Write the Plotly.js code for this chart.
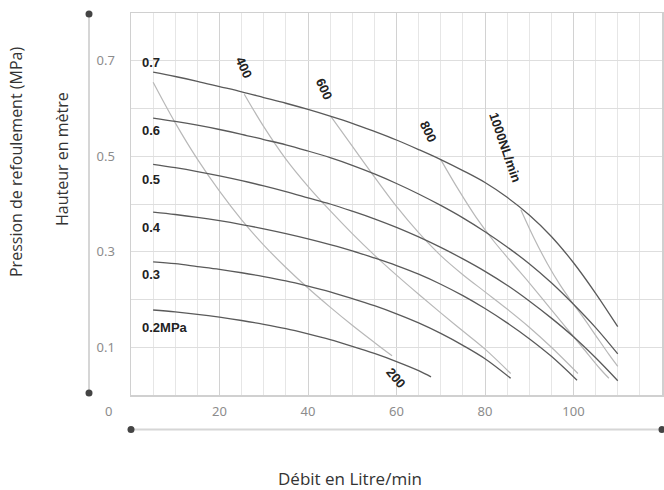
<!DOCTYPE html>
<html>
<head>
<meta charset="utf-8">
<script src="https://cdn.plot.ly/plotly-3.0.1.min.js"></script>
<style>
  html, body { margin: 0; padding: 0; background: #fff; }
  #chart { width: 664px; height: 490px; }
</style>
</head>
<body>
<div id="chart"></div>
<script>
// ---- Pressure curves (MPa): flow (L/min) vs head ----
const pressureNames = ['0.7', '0.6', '0.5', '0.4', '0.3', '0.2MPa'];
const q07 = [5, 10, 15, 20, 25, 30, 35, 40, 45, 50, 55, 60, 65, 70, 75, 80, 85, 90, 95, 100, 105, 110];
const h07 = [0.676, 0.667, 0.657, 0.646, 0.635, 0.623, 0.611, 0.598, 0.584, 0.569, 0.552, 0.534, 0.514, 0.493, 0.470, 0.445, 0.414, 0.377, 0.332, 0.277, 0.213, 0.143];
const q06 = [5, 10, 15, 20, 25, 30, 35, 40, 45, 50, 55, 60, 65, 70, 75, 80, 85, 90, 95, 100, 105, 110];
const h06 = [0.580, 0.573, 0.565, 0.556, 0.546, 0.535, 0.524, 0.511, 0.497, 0.481, 0.463, 0.443, 0.421, 0.397, 0.371, 0.342, 0.310, 0.275, 0.235, 0.190, 0.141, 0.086];
const q05 = [5, 10, 15, 20, 25, 30, 35, 40, 45, 50, 55, 60, 65, 70, 75, 80, 85, 90, 95, 100, 105, 110];
const h05 = [0.483, 0.476, 0.468, 0.459, 0.449, 0.438, 0.426, 0.413, 0.400, 0.385, 0.369, 0.351, 0.331, 0.309, 0.285, 0.259, 0.230, 0.197, 0.161, 0.122, 0.078, 0.030];
const q04 = [5, 10, 15, 20, 25, 30, 35, 40, 45, 50, 55, 60, 65, 70, 75, 80, 85, 90, 95, 100.8];
const h04 = [0.383, 0.378, 0.372, 0.365, 0.357, 0.348, 0.338, 0.327, 0.315, 0.302, 0.287, 0.271, 0.253, 0.232, 0.208, 0.181, 0.151, 0.118, 0.081, 0.031];
const q03 = [5, 10, 15, 20, 25, 30, 35, 40, 45, 50, 55, 60, 65, 70, 75, 80, 85.8];
const h03 = [0.279, 0.275, 0.269, 0.263, 0.256, 0.248, 0.239, 0.228, 0.216, 0.202, 0.187, 0.170, 0.151, 0.129, 0.104, 0.076, 0.035];
const q02 = [5, 10, 15, 20, 25, 30, 35, 40, 45, 50, 55, 60, 65, 67.8];
const h02 = [0.178, 0.174, 0.169, 0.163, 0.156, 0.148, 0.139, 0.128, 0.116, 0.102, 0.087, 0.070, 0.051, 0.038];

// ---- Air consumption curves (NL/min) ----
const airNames = ['200', '400', '600', '800', '1000NL/min'];
const qa200 = [5, 10, 15, 20, 25, 30, 35, 40, 45, 50, 55, 59];
const ha200 = [0.655, 0.570, 0.494, 0.427, 0.367, 0.314, 0.267, 0.224, 0.184, 0.146, 0.110, 0.082];
const qa400 = [25.6, 30, 35, 40, 45, 50, 55, 60, 65, 70, 75, 80, 85.8];
const ha400 = [0.630, 0.562, 0.494, 0.437, 0.386, 0.338, 0.293, 0.251, 0.211, 0.172, 0.134, 0.096, 0.045];
const qa600 = [45.2, 50, 55, 60, 65, 70, 75, 80, 85, 90, 95, 101];
const ha600 = [0.583, 0.521, 0.457, 0.395, 0.340, 0.292, 0.252, 0.216, 0.180, 0.142, 0.100, 0.045];
const qa800 = [70, 74, 78, 82, 86, 90, 94, 98, 102, 106, 108];
const ha800 = [0.493, 0.430, 0.372, 0.322, 0.278, 0.235, 0.190, 0.145, 0.100, 0.055, 0.035];
const qa1000 = [88.1, 91, 94.1, 97, 99.3, 102, 105, 108, 110];
const ha1000 = [0.388, 0.330, 0.275, 0.230, 0.199, 0.165, 0.125, 0.085, 0.060];

// ---- Tick labels ----
const xTickVals = [20, 40, 60, 80, 100];
const yTickVals = [0.1, 0.3, 0.5, 0.7];
const yTickText = ['0.1', '0.3', '0.5', '0.7'];

const pressureX = [q07, q06, q05, q04, q03, q02];
const pressureY = [h07, h06, h05, h04, h03, h02];
const airX = [qa200, qa400, qa600, qa800, qa1000];
const airY = [ha200, ha400, ha600, ha800, ha1000];

const traces = [];
airX.forEach((xs, i) => {
  traces.push({
    type: 'scatter', mode: 'lines', x: xs, y: airY[i], name: airNames[i],
    line: { color: '#b8b8b8', width: 1.2, shape: 'spline', smoothing: 1 },
    hoverinfo: 'skip', showlegend: false
  });
});
pressureX.forEach((xs, i) => {
  traces.push({
    type: 'scatter', mode: 'lines', x: xs, y: pressureY[i], name: pressureNames[i],
    line: { color: '#5a5a5a', width: 1.3, shape: 'spline', smoothing: 1 },
    hoverinfo: 'skip', showlegend: false
  });
});

const W = 531, H = 382; // plot area size in px (for paper-coord decorations)
const r = 3.5;
function dot(px, py) {
  return { type: 'circle', xref: 'paper', yref: 'paper',
    x0: px - r / W, x1: px + r / W, y0: py - r / H, y1: py + r / H,
    fillcolor: '#444', line: { width: 0 } };
}
const vx = (89 - 131) / W;
const vyTop = (395 - 14) / H, vyBot = (395 - 393) / H;
const hy = (395 - 429.5) / H;

const shapes = [
  { type: 'line', xref: 'paper', yref: 'paper', x0: vx, x1: vx, y0: vyBot, y1: vyTop,
    line: { color: '#d6d6d6', width: 2 } },
  { type: 'line', xref: 'paper', yref: 'paper', x0: 0, x1: 1, y0: hy, y1: hy,
    line: { color: '#d6d6d6', width: 2 } },
  dot(vx, vyTop), dot(vx, vyBot), dot(0, hy), dot(1, hy)
];

const lblFont = { family: 'Liberation Sans, Arial, sans-serif', size: 13, color: '#222', weight: 'bold' };
function lbl(text, x, y, angle, xanchor) {
  return { text: '<b>' + text + '</b>', x: x, y: y, xref: 'x', yref: 'y', showarrow: false,
    textangle: angle || 0, xanchor: xanchor || 'center', yanchor: 'middle', font: lblFont };
}
const titleFont = (s) => ({ family: 'Open Sans, sans-serif', size: s, color: '#333' });
const annotations = [
  lbl(pressureNames[0], 2.0, 0.697, 0, 'left'),
  lbl(pressureNames[1], 2.0, 0.553, 0, 'left'),
  lbl(pressureNames[2], 2.0, 0.452, 0, 'left'),
  lbl(pressureNames[3], 2.0, 0.350, 0, 'left'),
  lbl(pressureNames[4], 2.0, 0.253, 0, 'left'),
  lbl(pressureNames[5], 2.0, 0.142, 0, 'left'),
  lbl(airNames[0], 59.8, 0.036, 50),
  lbl(airNames[1], 25.5, 0.686, 65),
  lbl(airNames[2], 43.7, 0.640, 65),
  lbl(airNames[3], 67.1, 0.551, 65),
  lbl(airNames[4], 84.6, 0.519, 71),
  { text: 'Pression de refoulement (MPa)', xref: 'paper', yref: 'paper', x: (16 - 131) / W, y: (395 - 162) / H,
    textangle: -90, showarrow: false, xanchor: 'center', yanchor: 'middle', font: titleFont(16) },
  { text: 'Hauteur en mètre', xref: 'paper', yref: 'paper', x: (62 - 131) / W, y: (395 - 159) / H,
    textangle: -90, showarrow: false, xanchor: 'center', yanchor: 'middle', font: titleFont(16) },
  { text: 'Débit en Litre/min', xref: 'paper', yref: 'paper', x: (350 - 131) / W, y: (395 - 478) / H,
    showarrow: false, xanchor: 'center', yanchor: 'middle', font: titleFont(17) },
  { text: '0', xref: 'paper', yref: 'paper', x: (108 - 131) / W, y: (395 - 411) / H,
    showarrow: false, xanchor: 'center', yanchor: 'middle',
    font: { family: 'Noto Sans, sans-serif', size: 13, color: '#8c8c8c' } }
];

const layout = {
  width: 664, height: 490,
  margin: { l: 131, r: 2, t: 13, b: 95, pad: 0 },
  paper_bgcolor: '#fff', plot_bgcolor: '#fff',
  showlegend: false,
  xaxis: {
    range: [0, 120], tickvals: xTickVals, ticks: '', ticklabelstandoff: 4,
    showgrid: true, gridcolor: '#d2d2d2', gridwidth: 1,
    minor: { dtick: 5, showgrid: true, gridcolor: '#e6e6e6', gridwidth: 1 },
    showline: true, mirror: true, linecolor: '#d0d0d0', linewidth: 1.5,
    zeroline: false, fixedrange: true,
    tickfont: { family: 'Noto Sans, sans-serif', size: 13, color: '#8c8c8c' }
  },
  yaxis: {
    range: [0, 0.8], tickvals: yTickVals, ticktext: yTickText, ticks: '', ticklabelstandoff: 12,
    showgrid: true, gridcolor: '#dedede', gridwidth: 1,
    minor: { dtick: 0.1, showgrid: true, gridcolor: '#dedede', gridwidth: 1 },
    showline: true, mirror: true, linecolor: '#d0d0d0', linewidth: 1.5,
    zeroline: false, fixedrange: true,
    tickfont: { family: 'Noto Sans, sans-serif', size: 13, color: '#8c8c8c' }
  },
  shapes: shapes,
  annotations: annotations
};

Plotly.newPlot('chart', traces, layout, { staticPlot: true, displayModeBar: false });
</script>
</body>
</html>
